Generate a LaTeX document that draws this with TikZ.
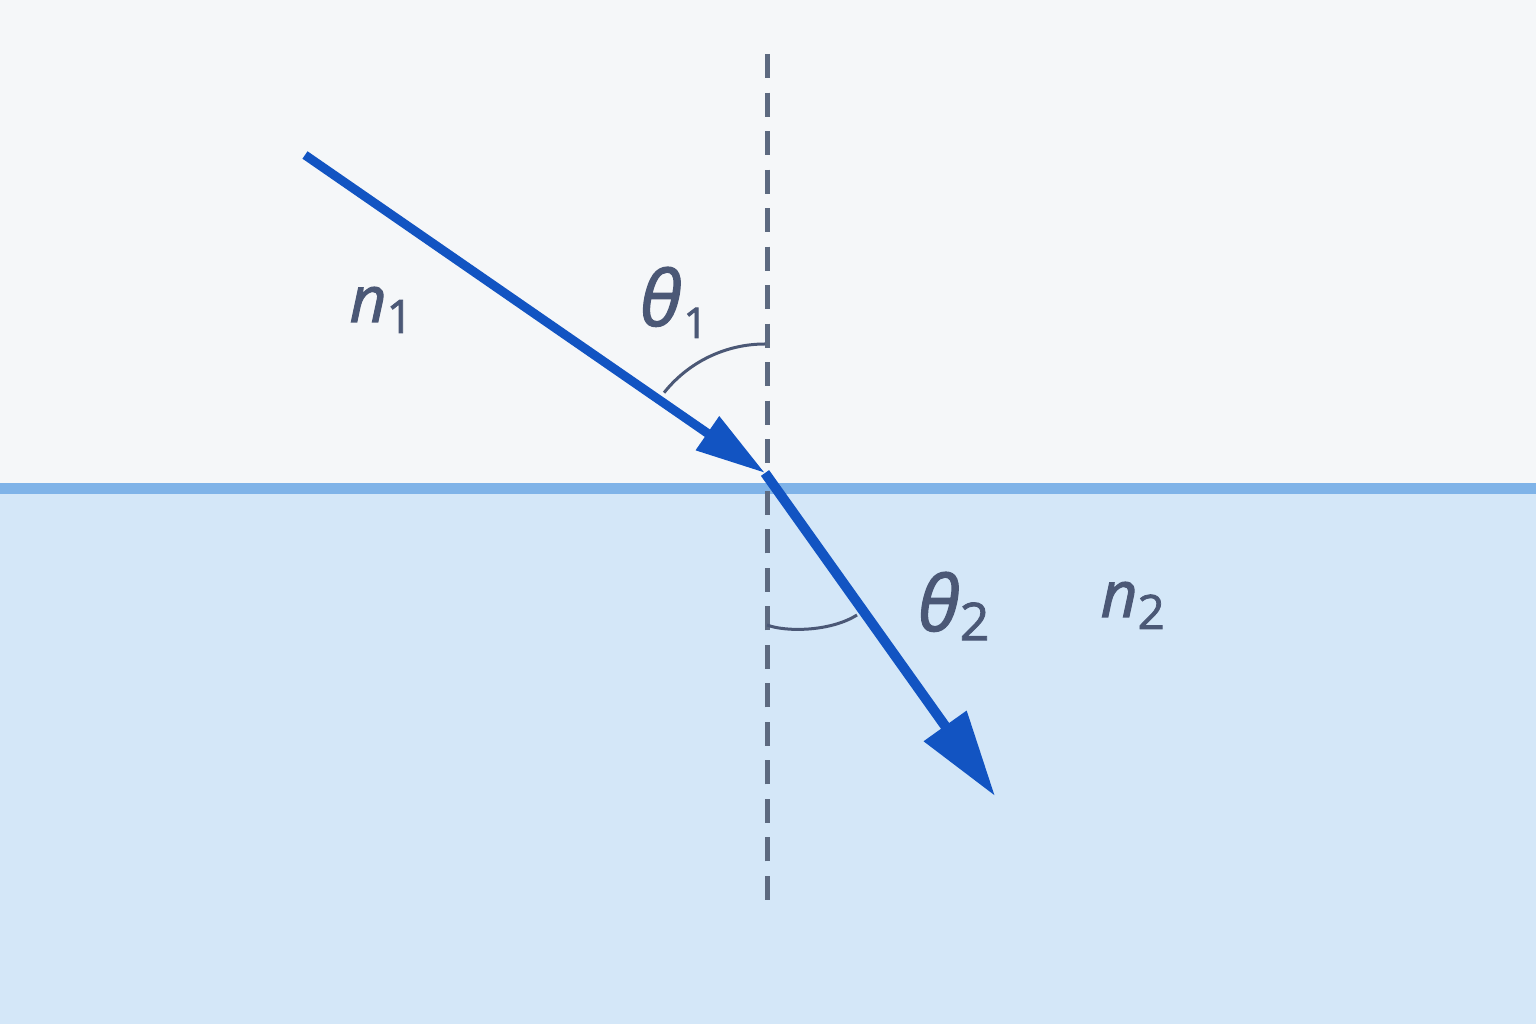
\documentclass[tikz,border=0pt]{standalone}
\usepackage{fontspec}
\setmainfont{Open Sans}
\newfontfamily\lblfont{Open Sans}[FakeBold=1.6]
\usetikzlibrary{arrows.meta}
\definecolor{topbg}{HTML}{F5F7F9}
\definecolor{botbg}{HTML}{D4E7F8}
\definecolor{iface}{HTML}{7FB3E8}
\definecolor{ray}{HTML}{1254C2}
\definecolor{normalc}{HTML}{5D6A80}
\definecolor{labelc}{HTML}{4B5876}
\begin{document}
\begin{tikzpicture}[x=0.01cm,y=0.01cm,
  raybase/.style={draw=ray, line cap=butt},
  normalline/.style={draw=normalc, line width=0.045cm, dash pattern=on 0.24cm off 0.145cm},
  anglearc/.style={draw=labelc, line width=0.03cm},
  lbl/.style={text=labelc, inner sep=0pt, anchor=base west, font=\lblfont}]
\useasboundingbox (0,0) rectangle (1536,1024);
\fill[topbg] (0,0) rectangle (1536,1024);
\fill[botbg] (0,0) rectangle (1536,535);
\draw[iface, line width=0.11cm] (0,535) -- (1536,535);
% normal
\coordinate (ntop) at (767.5,970);
\coordinate (nmidA) at (767.5,550);
\coordinate (nbot) at (767.5,124);
\coordinate (nmidB) at (767.5,536);
\draw[normalline] (ntop) -- (nmidA);
\draw[normalline] (nbot) -- (nmidB);
% rays
\coordinate (src) at (305,869);
\coordinate (hit) at (765,551);
\coordinate (dst) at (995,228);
\draw[raybase, line width=0.09cm, -{Triangle[length=0.70cm,width=0.39cm]}] (src) -- (hit);
\draw[raybase, line width=0.10cm, -{Triangle[length=0.86cm,width=0.50cm]}] (hit) -- (dst);
% angle arcs
\draw[anglearc] ([shift={(141.5:129)}]hit) arc[start angle=141.5, end angle=90, radius=129];
\coordinate (arcBa) at (767,399);
\coordinate (arcBb) at (857,409);
\draw[anglearc] (arcBa) .. controls (785,392) and (830,392) .. (arcBb);
% labels
\node[lbl] (n1) at (349,702) {{\fontsize{18.2}{18.2}\selectfont\itshape n}{\fontsize{13.1}{13.1}\selectfont\raisebox{-3.1pt}{1}}};
\node[lbl] (t1) at (639,698) {{\fontsize{21.9}{21.9}\selectfont\itshape θ}\kern0.5pt{\fontsize{12}{12}\selectfont\raisebox{-3.4pt}{1}}};
\node[lbl] (t2) at (917,393) {{\fontsize{21.9}{21.9}\selectfont\itshape θ}{\fontsize{14.8}{14.8}\selectfont\raisebox{-2.6pt}{2}}};
\node[lbl] (n2) at (1100,407) {{\fontsize{18.2}{18.2}\selectfont\itshape n}{\fontsize{13.5}{13.5}\selectfont\raisebox{-3.4pt}{2}}};
\end{tikzpicture}
\end{document}
